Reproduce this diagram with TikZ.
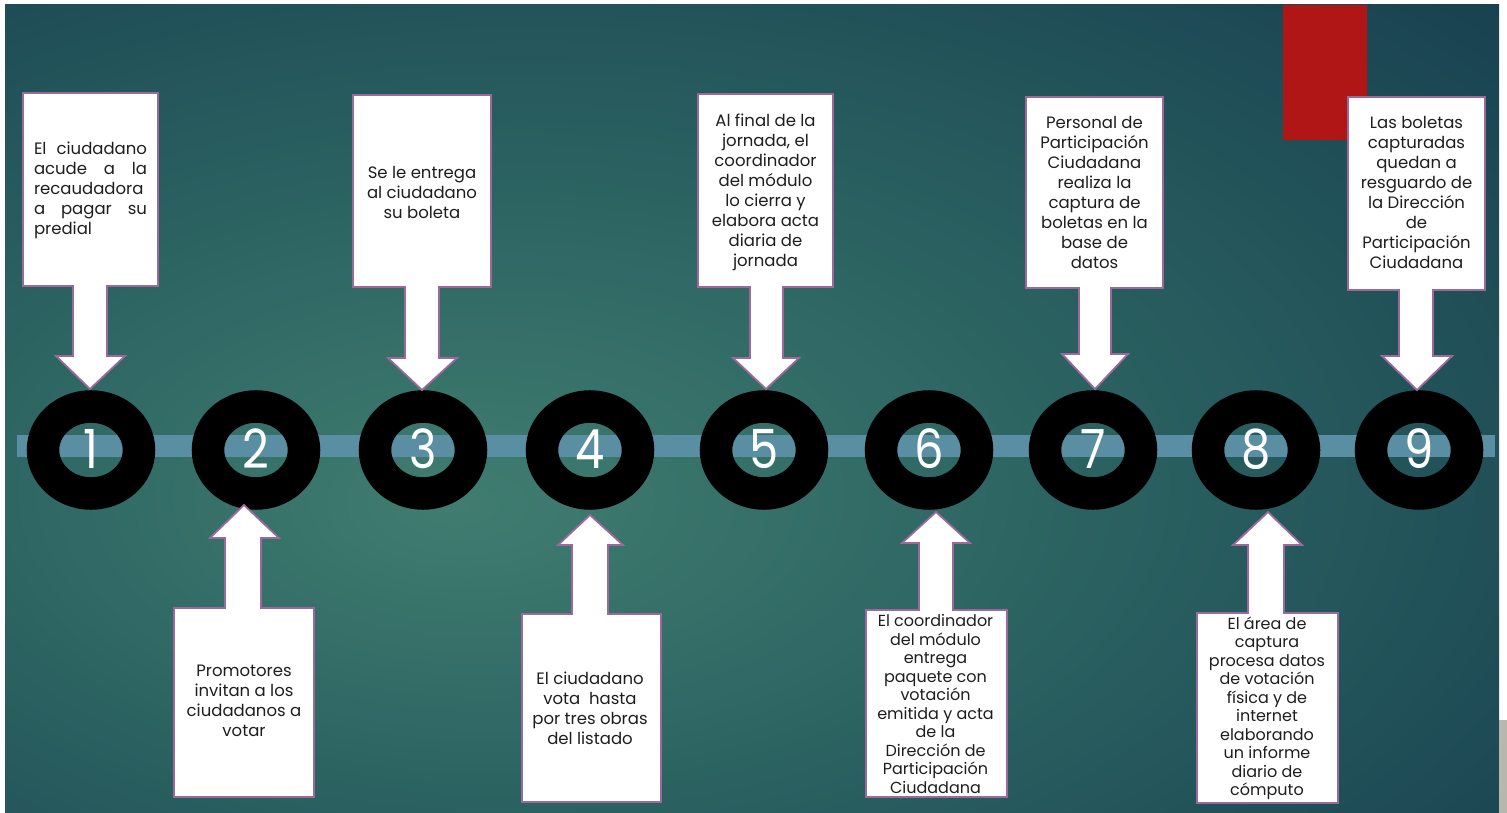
\documentclass[tikz,border=0pt]{standalone}
\usepackage{fontspec}
\setmainfont{Poppins}
\newfontfamily\numfont{Poppins}[FakeStretch=0.86]
\usetikzlibrary{shapes.geometric}
\definecolor{bgin}{RGB}{64,125,112}
\definecolor{bgmid}{RGB}{44,100,98}
\definecolor{bgmid2}{RGB}{26,68,82}
\definecolor{bgout}{RGB}{17,48,66}
\definecolor{barcol}{RGB}{90,142,162}
\definecolor{boxline}{RGB}{155,105,155}
\definecolor{redbar}{RGB}{176,22,22}
\definecolor{grayside}{RGB}{185,182,174}
\definecolor{txt}{RGB}{30,30,30}
\pgfdeclareradialshading{bgshade}{\pgfpoint{-10bp}{-6bp}}{color(0bp)=(bgin); color(18bp)=(bgmid); color(40bp)=(bgmid2); color(62bp)=(bgout); color(100bp)=(bgout)}
\tikzset{
  callout/.style={fill=white, draw=boxline, line width=1.8pt, line join=miter},
  ring/.style={ellipse, draw=black, line width=32.5pt, minimum width=96pt, minimum height=87pt, inner sep=0pt},
  digit/.style={text=white, font=\numfont\fontsize{54}{58}\selectfont, inner sep=0pt},
  boxtext/.style={text=txt, align=center, font=\fontsize{16.5}{20}\selectfont, inner sep=0pt},
  boxtextsm/.style={text=txt, align=center, font=\fontsize{16}{18.5}\selectfont, inner sep=0pt},
}
\begin{document}
\begin{tikzpicture}[x=1pt,y=-1pt]
\useasboundingbox (0,0) rectangle (1507,813);
% background
\shade[shading=bgshade] (5,5) rectangle (1499,813);
\fill[grayside] (1499,720) rectangle (1507,813);
\fill[redbar] (1283,5) rectangle (1367,140);
% timeline bar
\fill[barcol] (17,435) rectangle (1495,457);
% rings
\foreach \i/\x in {1/91,2/256,3/423,4/590,5/764,6/929,7/1093,8/1256,9/1419}{
  \node[ring] (r\i) at (\x,450) {};
  \node[digit] (n\i) at (\x,449) {\i};
}
% callouts
\foreach \L/\R/\F/\N/\sL/\sR/\hL/\hR/\hb/\tip/\cx in {
23/158/93/286/73/107/56/125/356/389/90,
353/491/95/287/405/439/388/457/358/390/422,
698/833/94/287/750/783/733/799/358/389/766,
1026/1163/97/288/1079/1111/1062/1128/354/389/1095,
1348/1485/97/290/1399/1433/1382/1452/356/390/1417,
174/314/797/608/225/261/210/279/538/505/244,
522/661/802/614/572/608/558/623/545/515/590,
866/1007/797/610/919/953/902/970/543/512/936,
1197/1338/803/613/1248/1284/1233/1302/545/512/1268}
{\filldraw[callout] (\L,\F) -- (\R,\F) -- (\R,\N) -- (\sR,\N) -- (\sR,\hb) -- (\hR,\hb) -- (\cx,\tip) -- (\hL,\hb) -- (\sL,\hb) -- (\sL,\N) -- (\L,\N) -- cycle;}
% texts
\node[boxtext, align=left, text width=113pt] (t1) at (90.5,190) {El\hfill ciudadano\\ acude\hfill a\hfill la\\ recaudadora\\ a\hfill pagar\hfill su\\ predial};
\node[boxtext] (t3) at (422,192) {Se le entrega\\ al ciudadano\\ su boleta};
\node[boxtext] (t5) at (765.5,192) {Al final de la\\ jornada, el\\ coordinador\\ del módulo\\ lo cierra y\\ elabora acta\\ diaria de\\ jornada};
\node[boxtext] (t7) at (1094.5,192.5) {Personal de\\ Participación\\ Ciudadana\\ realiza la\\ captura de\\ boletas en la\\ base de\\ datos};
\node[boxtext] (t9) at (1416.5,192.5) {Las boletas\\ capturadas\\ quedan a\\ resguardo de\\ la Dirección\\ de\\ Participación\\ Ciudadana};
\node[boxtext] (t2) at (244,701) {Promotores\\ invitan a los\\ ciudadanos a\\ votar};
\node[boxtext] (t4) at (590,708) {El ciudadano\\ vota\ \ hasta\\ por tres obras\\ del listado};
\node[boxtextsm] (t6) at (935.5,704) {El coordinador\\ del módulo\\ entrega\\ paquete con\\ votación\\ emitida y acta\\ de la\\ Dirección de\\ Participación\\ Ciudadana};
\node[boxtextsm] (t8) at (1267,708.5) {El área de\\ captura\\ procesa datos\\ de votación\\ física y de\\ internet\\ elaborando\\ un informe\\ diario de\\ cómputo};
\end{tikzpicture}
\end{document}
